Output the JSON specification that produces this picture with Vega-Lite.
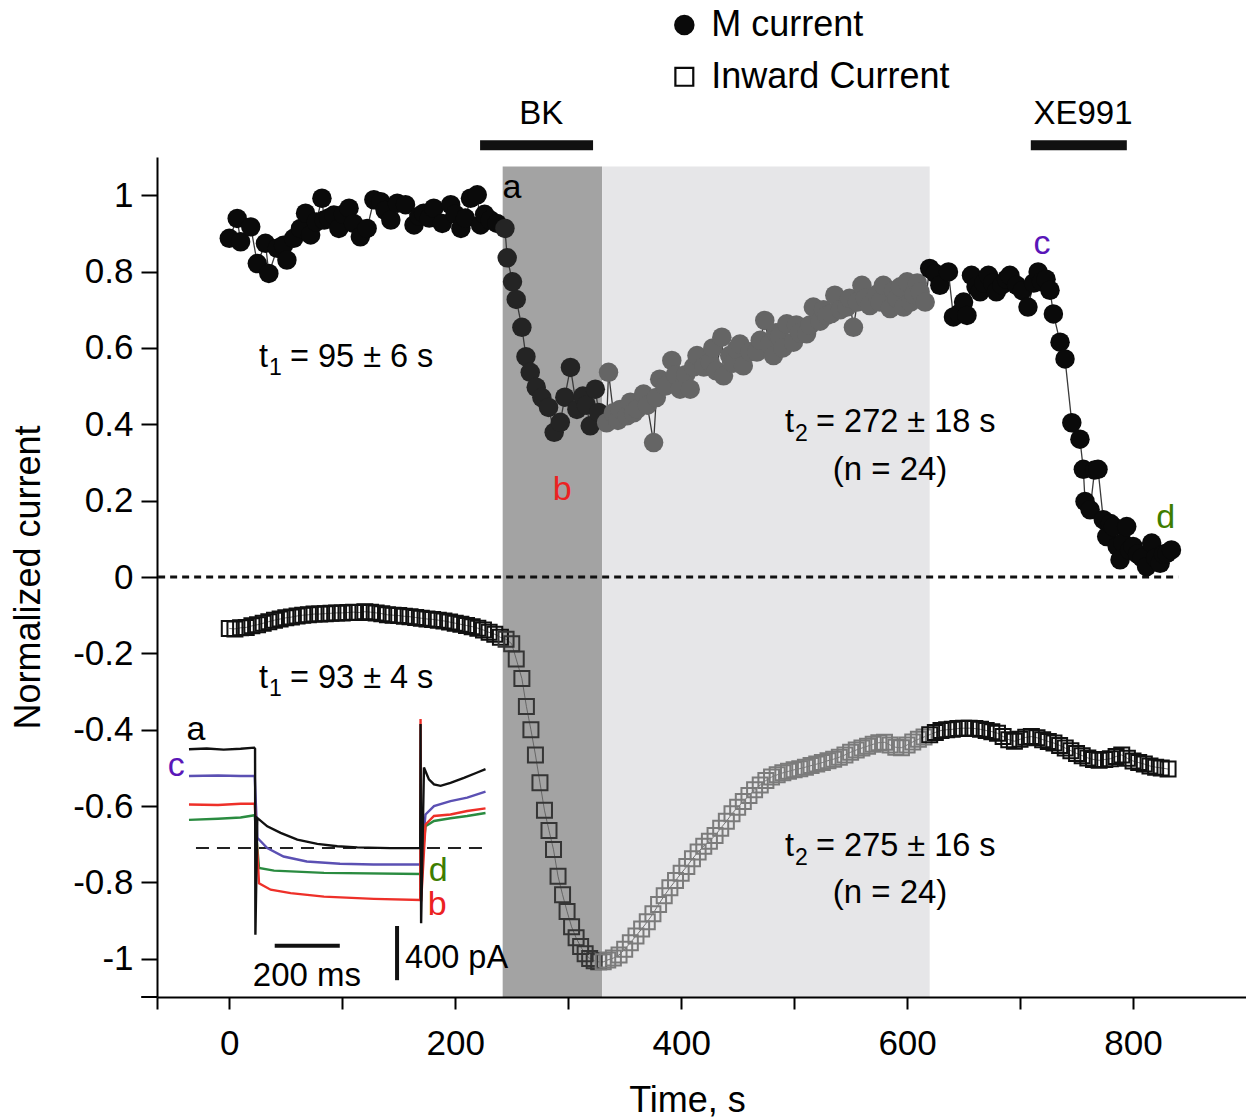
{
  "$schema": "https://vega.github.io/schema/vega-lite/v6.json",
  "width": 1089,
  "height": 840,
  "autosize": {"type": "none"},
  "padding": {"left": 157, "top": 157, "right": 0, "bottom": 121},
  "background": "white",
  "config": {"view": {"stroke": null}, "font": "Liberation Sans"},
  "datasets": {
    "m": [
      {"t":0,"v":0.887,"p":"pre"},{"t":7,"v":0.939,"p":"pre"},{"t":10,"v":0.878,"p":"pre"},{"t":19,"v":0.917,"p":"pre"},{"t":24.8,"v":0.821,"p":"pre"},{"t":32,"v":0.874,"p":"pre"},{"t":35,"v":0.795,"p":"pre"},{"t":42.5,"v":0.861,"p":"pre"},{"t":48,"v":0.869,"p":"pre"},{"t":51,"v":0.83,"p":"pre"},{"t":57,"v":0.887,"p":"pre"},{"t":63,"v":0.913,"p":"pre"},{"t":67.5,"v":0.953,"p":"pre"},{"t":72,"v":0.896,"p":"pre"},{"t":77,"v":0.93,"p":"pre"},{"t":82,"v":0.992,"p":"pre"},{"t":84,"v":0.935,"p":"pre"},{"t":88,"v":0.94,"p":"pre"},{"t":92.6,"v":0.948,"p":"pre"},{"t":97,"v":0.913,"p":"pre"},{"t":101,"v":0.95,"p":"pre"},{"t":106,"v":0.966,"p":"pre"},{"t":110,"v":0.926,"p":"pre"},{"t":116,"v":0.891,"p":"pre"},{"t":122,"v":0.913,"p":"pre"},{"t":128,"v":0.988,"p":"pre"},{"t":134,"v":0.983,"p":"pre"},{"t":138,"v":0.96,"p":"pre"},{"t":143,"v":0.935,"p":"pre"},{"t":148.7,"v":0.979,"p":"pre"},{"t":156,"v":0.975,"p":"pre"},{"t":163.5,"v":0.922,"p":"pre"},{"t":168,"v":0.945,"p":"pre"},{"t":172,"v":0.953,"p":"pre"},{"t":177,"v":0.94,"p":"pre"},{"t":181,"v":0.966,"p":"pre"},{"t":188.5,"v":0.926,"p":"pre"},{"t":196,"v":0.975,"p":"pre"},{"t":200,"v":0.95,"p":"pre"},{"t":205,"v":0.913,"p":"pre"},{"t":209,"v":0.94,"p":"pre"},{"t":213.5,"v":0.992,"p":"pre"},{"t":219.5,"v":1.001,"p":"pre"},{"t":222.4,"v":0.922,"p":"pre"},{"t":226,"v":0.95,"p":"pre"},{"t":231,"v":0.935,"p":"pre"},{"t":237,"v":0.926,"p":"pre"},
      {"t":244,"v":0.913,"p":"bk"},{"t":246,"v":0.836,"p":"bk"},{"t":250.7,"v":0.773,"p":"bk"},{"t":254,"v":0.727,"p":"bk"},{"t":259,"v":0.654,"p":"bk"},{"t":262.6,"v":0.577,"p":"bk"},{"t":266.4,"v":0.536,"p":"bk"},{"t":271.7,"v":0.497,"p":"bk"},{"t":276.7,"v":0.47,"p":"bk"},{"t":282.6,"v":0.444,"p":"bk"},{"t":287.6,"v":0.379,"p":"bk"},{"t":293,"v":0.405,"p":"bk"},{"t":297,"v":0.471,"p":"bk"},{"t":302,"v":0.549,"p":"bk"},{"t":307.7,"v":0.439,"p":"bk"},{"t":313,"v":0.474,"p":"bk"},{"t":316,"v":0.45,"p":"bk"},{"t":319.5,"v":0.396,"p":"bk"},{"t":324,"v":0.492,"p":"bk"},{"t":327,"v":0.431,"p":"bk"},
      {"t":334,"v":0.404,"p":"wash"},{"t":335.7,"v":0.536,"p":"wash"},{"t":340,"v":0.43,"p":"wash"},{"t":344,"v":0.41,"p":"wash"},{"t":346,"v":0.439,"p":"wash"},{"t":352,"v":0.422,"p":"wash"},{"t":355,"v":0.458,"p":"wash"},{"t":358,"v":0.43,"p":"wash"},{"t":361,"v":0.44,"p":"wash"},{"t":366.7,"v":0.479,"p":"wash"},{"t":370,"v":0.45,"p":"wash"},{"t":375.6,"v":0.352,"p":"wash"},{"t":378,"v":0.47,"p":"wash"},{"t":381,"v":0.518,"p":"wash"},{"t":386,"v":0.5,"p":"wash"},{"t":391.7,"v":0.567,"p":"wash"},{"t":395,"v":0.53,"p":"wash"},{"t":399,"v":0.492,"p":"wash"},{"t":404,"v":0.53,"p":"wash"},{"t":408,"v":0.492,"p":"wash"},{"t":411,"v":0.55,"p":"wash"},{"t":414,"v":0.58,"p":"wash"},{"t":420,"v":0.55,"p":"wash"},{"t":425.7,"v":0.563,"p":"wash"},{"t":428,"v":0.6,"p":"wash"},{"t":431,"v":0.54,"p":"wash"},{"t":436,"v":0.628,"p":"wash"},{"t":437.5,"v":0.527,"p":"wash"},{"t":443,"v":0.58,"p":"wash"},{"t":446,"v":0.56,"p":"wash"},{"t":449,"v":0.597,"p":"wash"},{"t":452,"v":0.61,"p":"wash"},{"t":455,"v":0.553,"p":"wash"},{"t":461,"v":0.59,"p":"wash"},{"t":467,"v":0.589,"p":"wash"},{"t":470,"v":0.62,"p":"wash"},{"t":474,"v":0.672,"p":"wash"},{"t":478,"v":0.61,"p":"wash"},{"t":481.7,"v":0.58,"p":"wash"},{"t":484,"v":0.64,"p":"wash"},{"t":487,"v":0.63,"p":"wash"},{"t":490,"v":0.6,"p":"wash"},{"t":493.5,"v":0.663,"p":"wash"},{"t":499.4,"v":0.615,"p":"wash"},{"t":502,"v":0.66,"p":"wash"},{"t":505,"v":0.64,"p":"wash"},{"t":511,"v":0.637,"p":"wash"},{"t":514,"v":0.66,"p":"wash"},{"t":517,"v":0.707,"p":"wash"},{"t":523,"v":0.67,"p":"wash"},{"t":526,"v":0.7,"p":"wash"},{"t":529,"v":0.685,"p":"wash"},{"t":533,"v":0.69,"p":"wash"},{"t":536,"v":0.738,"p":"wash"},{"t":541,"v":0.7,"p":"wash"},{"t":546.6,"v":0.707,"p":"wash"},{"t":549,"v":0.73,"p":"wash"},{"t":552.5,"v":0.654,"p":"wash"},{"t":556,"v":0.72,"p":"wash"},{"t":560,"v":0.764,"p":"wash"},{"t":563,"v":0.73,"p":"wash"},{"t":567,"v":0.711,"p":"wash"},{"t":573,"v":0.74,"p":"wash"},{"t":576,"v":0.72,"p":"wash"},{"t":579,"v":0.764,"p":"wash"},{"t":585,"v":0.703,"p":"wash"},{"t":588,"v":0.75,"p":"wash"},{"t":591,"v":0.73,"p":"wash"},{"t":594,"v":0.76,"p":"wash"},{"t":597,"v":0.707,"p":"wash"},{"t":600,"v":0.773,"p":"wash"},{"t":603,"v":0.72,"p":"wash"},{"t":606,"v":0.74,"p":"wash"},{"t":609,"v":0.77,"p":"wash"},{"t":611.5,"v":0.747,"p":"wash"},{"t":616,"v":0.72,"p":"wash"},
      {"t":620,"v":0.808,"p":"post"},{"t":625,"v":0.795,"p":"post"},{"t":629,"v":0.764,"p":"post"},{"t":636.6,"v":0.799,"p":"post"},{"t":641,"v":0.681,"p":"post"},{"t":646,"v":0.69,"p":"post"},{"t":650,"v":0.72,"p":"post"},{"t":653,"v":0.685,"p":"post"},{"t":657,"v":0.79,"p":"post"},{"t":661,"v":0.76,"p":"post"},{"t":664.6,"v":0.747,"p":"post"},{"t":668,"v":0.77,"p":"post"},{"t":672,"v":0.79,"p":"post"},{"t":676,"v":0.77,"p":"post"},{"t":679,"v":0.747,"p":"post"},{"t":684,"v":0.765,"p":"post"},{"t":688,"v":0.78,"p":"post"},{"t":691,"v":0.79,"p":"post"},{"t":697,"v":0.764,"p":"post"},{"t":702,"v":0.75,"p":"post"},{"t":707,"v":0.707,"p":"post"},{"t":712,"v":0.77,"p":"post"},{"t":716,"v":0.799,"p":"post"},{"t":719,"v":0.773,"p":"post"},{"t":723,"v":0.78,"p":"post"},{"t":726.5,"v":0.751,"p":"post"},{"t":729.5,"v":0.689,"p":"post"},{"t":735.4,"v":0.615,"p":"post"},{"t":739.8,"v":0.571,"p":"post"},{"t":745.8,"v":0.404,"p":"post"},{"t":753,"v":0.361,"p":"post"},{"t":756,"v":0.282,"p":"post"},{"t":757.5,"v":0.198,"p":"post"},{"t":762,"v":0.176,"p":"post"},{"t":766,"v":0.28,"p":"post"},{"t":769,"v":0.282,"p":"post"},{"t":773.7,"v":0.15,"p":"post"},{"t":776.7,"v":0.106,"p":"post"},{"t":780,"v":0.14,"p":"post"},{"t":782.6,"v":0.132,"p":"post"},{"t":786,"v":0.08,"p":"post"},{"t":788.5,"v":0.045,"p":"post"},{"t":791,"v":0.09,"p":"post"},{"t":794.4,"v":0.132,"p":"post"},{"t":797,"v":0.07,"p":"post"},{"t":800,"v":0.08,"p":"post"},{"t":804,"v":0.06,"p":"post"},{"t":808,"v":0.05,"p":"post"},{"t":812,"v":0.027,"p":"post"},{"t":816.5,"v":0.089,"p":"post"},{"t":820,"v":0.05,"p":"post"},{"t":824,"v":0.036,"p":"post"},{"t":827,"v":0.06,"p":"post"},{"t":830,"v":0.062,"p":"post"},{"t":834,"v":0.071,"p":"post"}
    ],
    "q": [
      {"t":0,"v":-0.135,"p":"pre"},{"t":5,"v":-0.136,"p":"pre"},{"t":10,"v":-0.133,"p":"pre"},{"t":15,"v":-0.132,"p":"pre"},{"t":20,"v":-0.128,"p":"pre"},{"t":25,"v":-0.125,"p":"pre"},{"t":30,"v":-0.121,"p":"pre"},{"t":35,"v":-0.117,"p":"pre"},{"t":40,"v":-0.113,"p":"pre"},{"t":45,"v":-0.11,"p":"pre"},{"t":50,"v":-0.107,"p":"pre"},{"t":55,"v":-0.105,"p":"pre"},{"t":60,"v":-0.102,"p":"pre"},{"t":65,"v":-0.1,"p":"pre"},{"t":70,"v":-0.099,"p":"pre"},{"t":75,"v":-0.097,"p":"pre"},{"t":80,"v":-0.097,"p":"pre"},{"t":85,"v":-0.096,"p":"pre"},{"t":90,"v":-0.095,"p":"pre"},{"t":95,"v":-0.094,"p":"pre"},{"t":100,"v":-0.094,"p":"pre"},{"t":105,"v":-0.093,"p":"pre"},{"t":110,"v":-0.092,"p":"pre"},{"t":115,"v":-0.093,"p":"pre"},{"t":120,"v":-0.091,"p":"pre"},{"t":125,"v":-0.092,"p":"pre"},{"t":130,"v":-0.094,"p":"pre"},{"t":135,"v":-0.096,"p":"pre"},{"t":140,"v":-0.099,"p":"pre"},{"t":145,"v":-0.1,"p":"pre"},{"t":150,"v":-0.101,"p":"pre"},{"t":155,"v":-0.103,"p":"pre"},{"t":160,"v":-0.104,"p":"pre"},{"t":165,"v":-0.106,"p":"pre"},{"t":170,"v":-0.108,"p":"pre"},{"t":175,"v":-0.11,"p":"pre"},{"t":180,"v":-0.111,"p":"pre"},{"t":185,"v":-0.113,"p":"pre"},{"t":190,"v":-0.115,"p":"pre"},{"t":195,"v":-0.118,"p":"pre"},{"t":200,"v":-0.121,"p":"pre"},{"t":205,"v":-0.124,"p":"pre"},{"t":210,"v":-0.127,"p":"pre"},{"t":215,"v":-0.13,"p":"pre"},{"t":220,"v":-0.134,"p":"pre"},{"t":225,"v":-0.139,"p":"pre"},{"t":230,"v":-0.145,"p":"pre"},{"t":235,"v":-0.15,"p":"pre"},{"t":240,"v":-0.158,"p":"pre"},
      {"t":245,"v":-0.163,"p":"bk"},{"t":250,"v":-0.175,"p":"bk"},{"t":254,"v":-0.215,"p":"bk"},{"t":259,"v":-0.266,"p":"bk"},{"t":263,"v":-0.339,"p":"bk"},{"t":267,"v":-0.4,"p":"bk"},{"t":271,"v":-0.466,"p":"bk"},{"t":275,"v":-0.539,"p":"bk"},{"t":279,"v":-0.611,"p":"bk"},{"t":283,"v":-0.664,"p":"bk"},{"t":287,"v":-0.714,"p":"bk"},{"t":291,"v":-0.784,"p":"bk"},{"t":295,"v":-0.832,"p":"bk"},{"t":299,"v":-0.876,"p":"bk"},{"t":303,"v":-0.916,"p":"bk"},{"t":307,"v":-0.945,"p":"bk"},{"t":311,"v":-0.968,"p":"bk"},{"t":315,"v":-0.987,"p":"bk"},{"t":319,"v":-0.999,"p":"bk"},{"t":323,"v":-1.005,"p":"bk"},{"t":327,"v":-1.008,"p":"bk"},
      {"t":331,"v":-1.008,"p":"wash"},{"t":335,"v":-1.003,"p":"wash"},{"t":340,"v":-0.998,"p":"wash"},{"t":345,"v":-0.99,"p":"wash"},{"t":350,"v":-0.975,"p":"wash"},{"t":355,"v":-0.958,"p":"wash"},{"t":360,"v":-0.94,"p":"wash"},{"t":365,"v":-0.922,"p":"wash"},{"t":370,"v":-0.903,"p":"wash"},{"t":375,"v":-0.882,"p":"wash"},{"t":380,"v":-0.858,"p":"wash"},{"t":385,"v":-0.835,"p":"wash"},{"t":390,"v":-0.814,"p":"wash"},{"t":395,"v":-0.795,"p":"wash"},{"t":400,"v":-0.776,"p":"wash"},{"t":405,"v":-0.758,"p":"wash"},{"t":410,"v":-0.738,"p":"wash"},{"t":415,"v":-0.72,"p":"wash"},{"t":420,"v":-0.705,"p":"wash"},{"t":425,"v":-0.692,"p":"wash"},{"t":430,"v":-0.677,"p":"wash"},{"t":435,"v":-0.658,"p":"wash"},{"t":440,"v":-0.64,"p":"wash"},{"t":445,"v":-0.62,"p":"wash"},{"t":450,"v":-0.603,"p":"wash"},{"t":455,"v":-0.588,"p":"wash"},{"t":460,"v":-0.572,"p":"wash"},{"t":465,"v":-0.557,"p":"wash"},{"t":470,"v":-0.545,"p":"wash"},{"t":475,"v":-0.533,"p":"wash"},{"t":480,"v":-0.524,"p":"wash"},{"t":485,"v":-0.518,"p":"wash"},{"t":490,"v":-0.513,"p":"wash"},{"t":495,"v":-0.509,"p":"wash"},{"t":500,"v":-0.505,"p":"wash"},{"t":505,"v":-0.502,"p":"wash"},{"t":510,"v":-0.498,"p":"wash"},{"t":515,"v":-0.494,"p":"wash"},{"t":520,"v":-0.49,"p":"wash"},{"t":525,"v":-0.486,"p":"wash"},{"t":530,"v":-0.481,"p":"wash"},{"t":535,"v":-0.477,"p":"wash"},{"t":540,"v":-0.472,"p":"wash"},{"t":545,"v":-0.466,"p":"wash"},{"t":550,"v":-0.459,"p":"wash"},{"t":555,"v":-0.453,"p":"wash"},{"t":560,"v":-0.448,"p":"wash"},{"t":565,"v":-0.443,"p":"wash"},{"t":570,"v":-0.438,"p":"wash"},{"t":575,"v":-0.434,"p":"wash"},{"t":580,"v":-0.433,"p":"wash"},{"t":585,"v":-0.44,"p":"wash"},{"t":590,"v":-0.446,"p":"wash"},{"t":595,"v":-0.447,"p":"wash"},{"t":600,"v":-0.44,"p":"wash"},{"t":605,"v":-0.432,"p":"wash"},{"t":610,"v":-0.425,"p":"wash"},{"t":615,"v":-0.419,"p":"wash"},
      {"t":620,"v":-0.413,"p":"post"},{"t":625,"v":-0.407,"p":"post"},{"t":630,"v":-0.402,"p":"post"},{"t":635,"v":-0.4,"p":"post"},{"t":640,"v":-0.399,"p":"post"},{"t":645,"v":-0.397,"p":"post"},{"t":650,"v":-0.396,"p":"post"},{"t":655,"v":-0.396,"p":"post"},{"t":660,"v":-0.397,"p":"post"},{"t":665,"v":-0.399,"p":"post"},{"t":670,"v":-0.402,"p":"post"},{"t":675,"v":-0.405,"p":"post"},{"t":680,"v":-0.409,"p":"post"},{"t":685,"v":-0.418,"p":"post"},{"t":690,"v":-0.426,"p":"post"},{"t":695,"v":-0.43,"p":"post"},{"t":700,"v":-0.425,"p":"post"},{"t":705,"v":-0.42,"p":"post"},{"t":710,"v":-0.418,"p":"post"},{"t":715,"v":-0.421,"p":"post"},{"t":720,"v":-0.426,"p":"post"},{"t":725,"v":-0.431,"p":"post"},{"t":730,"v":-0.435,"p":"post"},{"t":735,"v":-0.441,"p":"post"},{"t":740,"v":-0.448,"p":"post"},{"t":745,"v":-0.455,"p":"post"},{"t":750,"v":-0.462,"p":"post"},{"t":755,"v":-0.468,"p":"post"},{"t":760,"v":-0.474,"p":"post"},{"t":765,"v":-0.478,"p":"post"},{"t":770,"v":-0.48,"p":"post"},{"t":775,"v":-0.478,"p":"post"},{"t":780,"v":-0.476,"p":"post"},{"t":785,"v":-0.47,"p":"post"},{"t":790,"v":-0.466,"p":"post"},{"t":795,"v":-0.475,"p":"post"},{"t":800,"v":-0.482,"p":"post"},{"t":805,"v":-0.486,"p":"post"},{"t":810,"v":-0.49,"p":"post"},{"t":815,"v":-0.495,"p":"post"},{"t":820,"v":-0.498,"p":"post"},{"t":825,"v":-0.5,"p":"post"},{"t":831,"v":-0.503,"p":"post"}
    ],
    "traces": [
      {"tr":"a","t":-35.7,"v":-0.451},{"tr":"a","t":-20,"v":-0.449},{"tr":"a","t":-5,"v":-0.452},{"tr":"a","t":10,"v":-0.45},{"tr":"a","t":22,"v":-0.447},{"tr":"a","t":22.8,"v":-0.45},{"tr":"a","t":23.1,"v":-0.937},{"tr":"a","t":24.8,"v":-0.631},{"tr":"a","t":33.6,"v":-0.653},{"tr":"a","t":45.4,"v":-0.67},{"tr":"a","t":60.2,"v":-0.688},{"tr":"a","t":77.9,"v":-0.699},{"tr":"a","t":95.6,"v":-0.705},{"tr":"a","t":113.3,"v":-0.708},{"tr":"a","t":142.7,"v":-0.71},{"tr":"a","t":169,"v":-0.71},{"tr":"a","t":169.3,"v":-0.385},{"tr":"a","t":169.8,"v":-0.907},{"tr":"a","t":172.3,"v":-0.499},{"tr":"a","t":176.7,"v":-0.53},{"tr":"a","t":181.2,"v":-0.543},{"tr":"a","t":187,"v":-0.547},{"tr":"a","t":195.8,"v":-0.539},{"tr":"a","t":207.7,"v":-0.526},{"tr":"a","t":219.5,"v":-0.512},{"tr":"a","t":226.8,"v":-0.503},
      {"tr":"c","t":-35.7,"v":-0.521},{"tr":"c","t":-10,"v":-0.52},{"tr":"c","t":10,"v":-0.521},{"tr":"c","t":22.5,"v":-0.521},{"tr":"c","t":24.8,"v":-0.683},{"tr":"c","t":33.6,"v":-0.71},{"tr":"c","t":48,"v":-0.732},{"tr":"c","t":68.6,"v":-0.745},{"tr":"c","t":98,"v":-0.751},{"tr":"c","t":127.6,"v":-0.753},{"tr":"c","t":169.3,"v":-0.753},{"tr":"c","t":173.7,"v":-0.622},{"tr":"c","t":181.2,"v":-0.6},{"tr":"c","t":195.8,"v":-0.587},{"tr":"c","t":210.6,"v":-0.578},{"tr":"c","t":226.8,"v":-0.562},
      {"tr":"d","t":-35.7,"v":-0.636},{"tr":"d","t":-10,"v":-0.633},{"tr":"d","t":10,"v":-0.63},{"tr":"d","t":22.5,"v":-0.624},{"tr":"d","t":26.3,"v":-0.762},{"tr":"d","t":39.6,"v":-0.769},{"tr":"d","t":83.8,"v":-0.775},{"tr":"d","t":169.3,"v":-0.778},{"tr":"d","t":173.7,"v":-0.653},{"tr":"d","t":181.2,"v":-0.639},{"tr":"d","t":195.8,"v":-0.632},{"tr":"d","t":210.6,"v":-0.626},{"tr":"d","t":226.8,"v":-0.618},
      {"tr":"b","t":-35.7,"v":-0.596},{"tr":"b","t":-10,"v":-0.597},{"tr":"b","t":10,"v":-0.594},{"tr":"b","t":22.5,"v":-0.594},{"tr":"b","t":26.3,"v":-0.802},{"tr":"b","t":36.6,"v":-0.819},{"tr":"b","t":54.3,"v":-0.828},{"tr":"b","t":83.8,"v":-0.837},{"tr":"b","t":128,"v":-0.843},{"tr":"b","t":169,"v":-0.846},{"tr":"b","t":169.3,"v":-0.372},{"tr":"b","t":169.8,"v":-0.85},{"tr":"b","t":173.7,"v":-0.648},{"tr":"b","t":181.2,"v":-0.626},{"tr":"b","t":195.8,"v":-0.622},{"tr":"b","t":210.6,"v":-0.613},{"tr":"b","t":226.8,"v":-0.606}
    ]
  },
  "resolve": {"scale": {"color": "independent"}},
  "layer": [
    {
      "data": {"values": [{"t": 242, "t2": 330, "z": "dark"}, {"t": 330, "t2": 620, "z": "light"}]},
      "mark": {"type": "rect"},
      "encoding": {
        "x": {"field": "t", "type": "quantitative",
          "scale": {"domain": [-64, 900], "nice": false, "zero": false},
          "axis": {"values": [-64, 0, 100, 200, 300, 400, 500, 600, 700, 800],
            "labelExpr": "datum.value >= 0 && datum.value % 200 === 0 ? '' + datum.value : ''",
            "title": "Time, s", "grid": false, "zindex": 1,
            "tickSize": 12, "tickWidth": 2, "tickColor": "black", "domainWidth": 2, "domainColor": "black",
            "labelFontSize": 35, "labelColor": "black", "labelPadding": 17, "labelOverlap": false, "labelFlush": false, "labelFont": "Liberation Sans",
            "titleFontSize": 36, "titleFontWeight": "normal", "titleColor": "black", "titleFont": "Liberation Sans",
            "titleX": 530, "titleY": 103, "titleBaseline": "middle", "titleAlign": "center"}},
        "x2": {"field": "t2"},
        "y": {"datum": -1.1, "type": "quantitative",
          "scale": {"domain": [-1.1, 1.1], "nice": false, "zero": false},
          "axis": {"values": [-1, -0.8, -0.6, -0.4, -0.2, 0, 0.2, 0.4, 0.6, 0.8, 1],
            "labelExpr": "'' + datum.value",
            "title": "Normalized current", "grid": false, "zindex": 1,
            "tickSize": 16, "tickWidth": 2, "tickColor": "black", "domainWidth": 2, "domainColor": "black",
            "labelFontSize": 35, "labelColor": "black", "labelPadding": 8, "labelOverlap": false, "labelFlush": false, "labelFont": "Liberation Sans",
            "titleFontSize": 36, "titleFontWeight": "normal", "titleColor": "black", "titleFont": "Liberation Sans",
            "titleX": -129, "titleY": 420, "titleAngle": -90, "titleBaseline": "middle", "titleAlign": "center"}},
        "y2": {"datum": 1.075},
        "color": {"field": "z", "type": "nominal", "scale": {"domain": ["dark", "light"], "range": ["#a3a3a3", "#e6e6e8"]}, "legend": null}
      }
    },
    {
      "data": {"values": [{"t": -63, "t2": 840, "v": 0}]},
      "mark": {"type": "rule", "color": "#111", "strokeWidth": 3, "strokeDash": [7, 5]},
      "encoding": {"x": {"field": "t", "type": "quantitative"}, "x2": {"field": "t2"}, "y": {"field": "v", "type": "quantitative"}}
    },
    {
      "data": {"values": [{"t": -78, "t2": -64, "v": -1.1}]},
      "mark": {"type": "rule", "color": "black", "strokeWidth": 2},
      "encoding": {"x": {"field": "t", "type": "quantitative"}, "x2": {"field": "t2"}, "y": {"field": "v", "type": "quantitative"}}
    },
    {
      "data": {"values": [{"t": -29.5, "t2": 224, "v": -0.71}]},
      "mark": {"type": "rule", "color": "#222", "strokeWidth": 2, "strokeDash": [13, 8]},
      "encoding": {"x": {"field": "t", "type": "quantitative"}, "x2": {"field": "t2"}, "y": {"field": "v", "type": "quantitative"}}
    },
    {
      "data": {"name": "traces"},
      "transform": [{"filter": "datum.tr !== 'a'"}],
      "mark": {"type": "line", "strokeWidth": 2.4},
      "encoding": {
        "x": {"field": "t", "type": "quantitative"},
        "y": {"field": "v", "type": "quantitative"},
        "color": {"field": "tr", "type": "nominal", "scale": {"domain": ["c", "d", "b"], "range": ["#5b50b3", "#2a8b40", "#ee3029"]}, "legend": null}
      }
    },
    {
      "data": {"name": "traces"},
      "transform": [{"filter": "datum.tr === 'a'"}],
      "mark": {"type": "line", "strokeWidth": 2.4, "color": "#111"},
      "encoding": {"x": {"field": "t", "type": "quantitative"}, "y": {"field": "v", "type": "quantitative"}}
    },
    {
      "data": {"values": [
        {"t": 40.2, "t2": 97.8, "v": -0.966, "v2": -0.966},
        {"t": 148.5, "t2": 148.5, "v": -0.914, "v2": -1.056}
      ]},
      "mark": {"type": "rule", "color": "#111", "strokeWidth": 4},
      "encoding": {"x": {"field": "t", "type": "quantitative"}, "x2": {"field": "t2"}, "y": {"field": "v", "type": "quantitative"}, "y2": {"field": "v2"}}
    },
    {
      "data": {"values": [
        {"t": 222, "t2": 322, "v": 1.131, "v2": 1.131},
        {"t": 709.5, "t2": 794.5, "v": 1.131, "v2": 1.131}
      ]},
      "mark": {"type": "rule", "color": "#111", "strokeWidth": 10},
      "encoding": {"x": {"field": "t", "type": "quantitative"}, "x2": {"field": "t2"}, "y": {"field": "v", "type": "quantitative"}, "y2": {"field": "v2"}}
    },
    {
      "data": {"name": "q"},
      "mark": {"type": "line", "strokeWidth": 0.8, "color": "#555"},
      "encoding": {"x": {"field": "t", "type": "quantitative"}, "y": {"field": "v", "type": "quantitative"}}
    },
    {
      "data": {"name": "q"},
      "mark": {"type": "point", "shape": "square", "filled": false, "size": 225, "strokeWidth": 2, "opacity": 1},
      "encoding": {
        "x": {"field": "t", "type": "quantitative"},
        "y": {"field": "v", "type": "quantitative"},
        "color": {"field": "p", "type": "nominal", "scale": {"domain": ["pre", "bk", "wash", "post"], "range": ["#111111", "#353535", "#7b7b7b", "#111111"]}, "legend": null}
      }
    },
    {
      "data": {"name": "m"},
      "mark": {"type": "line", "strokeWidth": 1.3, "color": "#3a3a3a"},
      "encoding": {"x": {"field": "t", "type": "quantitative"}, "y": {"field": "v", "type": "quantitative"}}
    },
    {
      "data": {"name": "m"},
      "mark": {"type": "point", "shape": "circle", "filled": true, "size": 380, "opacity": 1, "strokeWidth": 0},
      "encoding": {
        "x": {"field": "t", "type": "quantitative"},
        "y": {"field": "v", "type": "quantitative"},
        "color": {"field": "p", "type": "nominal", "scale": {"domain": ["pre", "bk", "wash", "post"], "range": ["#0a0a0a", "#242424", "#656565", "#0a0a0a"]}, "legend": null}
      }
    },
    {
      "data": {"values": [{"t": 402.8, "v": 1.446}]},
      "mark": {"type": "point", "shape": "circle", "filled": true, "size": 420, "color": "#0a0a0a", "opacity": 1},
      "encoding": {"x": {"field": "t", "type": "quantitative"}, "y": {"field": "v", "type": "quantitative"}}
    },
    {
      "data": {"values": [{"t": 402.8, "v": 1.31}]},
      "mark": {"type": "point", "shape": "square", "filled": false, "size": 320, "strokeWidth": 2.2, "color": "#0a0a0a", "opacity": 1},
      "encoding": {"x": {"field": "t", "type": "quantitative"}, "y": {"field": "v", "type": "quantitative"}}
    },
    {
      "data": {"values": [
        {"t": 426.7, "v": 1.446, "txt": "M current"},
        {"t": 426.7, "v": 1.31, "txt": "Inward Current"}
      ]},
      "mark": {"type": "text", "align": "left", "baseline": "middle", "fontSize": 36, "font": "Liberation Sans", "color": "black"},
      "encoding": {"x": {"field": "t", "type": "quantitative"}, "y": {"field": "v", "type": "quantitative"}, "text": {"field": "txt"}}
    },
    {
      "data": {"values": [
        {"t": 276.2, "v": 1.213, "txt": "BK"},
        {"t": 755.7, "v": 1.213, "txt": "XE991"},
        {"t": 584.9, "v": 0.28, "txt": "(n = 24)"},
        {"t": 584.9, "v": -0.828, "txt": "(n = 24)"},
        {"t": 68.7, "v": -1.045, "txt": "200 ms"}
      ]},
      "mark": {"type": "text", "align": "center", "baseline": "middle", "fontSize": 33, "font": "Liberation Sans", "color": "black"},
      "encoding": {"x": {"field": "t", "type": "quantitative"}, "y": {"field": "v", "type": "quantitative"}, "text": {"field": "txt"}}
    },
    {
      "data": {"values": [
        {"t": 26.3, "v": 0.576, "txt": "t"},
        {"t": 53.7, "v": 0.576, "txt": "= 95 ± 6 s"},
        {"t": 26.3, "v": -0.265, "txt": "t"},
        {"t": 53.7, "v": -0.265, "txt": "= 93 ± 4 s"},
        {"t": 491.9, "v": 0.406, "txt": "t"},
        {"t": 519.4, "v": 0.406, "txt": "= 272 ± 18 s"},
        {"t": 491.9, "v": -0.705, "txt": "t"},
        {"t": 519.4, "v": -0.705, "txt": "= 275 ± 16 s"},
        {"t": 155.6, "v": -0.998, "txt": "400 pA"}
      ]},
      "mark": {"type": "text", "align": "left", "baseline": "middle", "fontSize": 32.5, "font": "Liberation Sans", "color": "black"},
      "encoding": {"x": {"field": "t", "type": "quantitative"}, "y": {"field": "v", "type": "quantitative"}, "text": {"field": "txt"}}
    },
    {
      "data": {"values": [
        {"t": 35.2, "v": 0.547, "txt": "1"},
        {"t": 35.2, "v": -0.294, "txt": "1"},
        {"t": 500.8, "v": 0.375, "txt": "2"},
        {"t": 500.8, "v": -0.736, "txt": "2"}
      ]},
      "mark": {"type": "text", "align": "left", "baseline": "middle", "fontSize": 23, "font": "Liberation Sans", "color": "black"},
      "encoding": {"x": {"field": "t", "type": "quantitative"}, "y": {"field": "v", "type": "quantitative"}, "text": {"field": "txt"}}
    },
    {
      "data": {"values": [
        {"t": 250.3, "v": 1.019, "txt": "a", "c": "a"},
        {"t": 294.6, "v": 0.228, "txt": "b", "c": "b"},
        {"t": 719.4, "v": 0.872, "txt": "c", "c": "c"},
        {"t": 829, "v": 0.155, "txt": "d", "c": "d"},
        {"t": -29.5, "v": -0.401, "txt": "a", "c": "a"},
        {"t": -47, "v": -0.495, "txt": "c", "c": "c"},
        {"t": 185, "v": -0.77, "txt": "d", "c": "d"},
        {"t": 184, "v": -0.859, "txt": "b", "c": "b"}
      ]},
      "mark": {"type": "text", "align": "center", "baseline": "middle", "fontSize": 34, "font": "Liberation Sans"},
      "encoding": {
        "x": {"field": "t", "type": "quantitative"},
        "y": {"field": "v", "type": "quantitative"},
        "text": {"field": "txt"},
        "color": {"field": "c", "type": "nominal", "scale": {"domain": ["a", "b", "c", "d"], "range": ["#000000", "#ec2222", "#5a16b8", "#3e7d00"]}, "legend": null}
      }
    }
  ]
}
